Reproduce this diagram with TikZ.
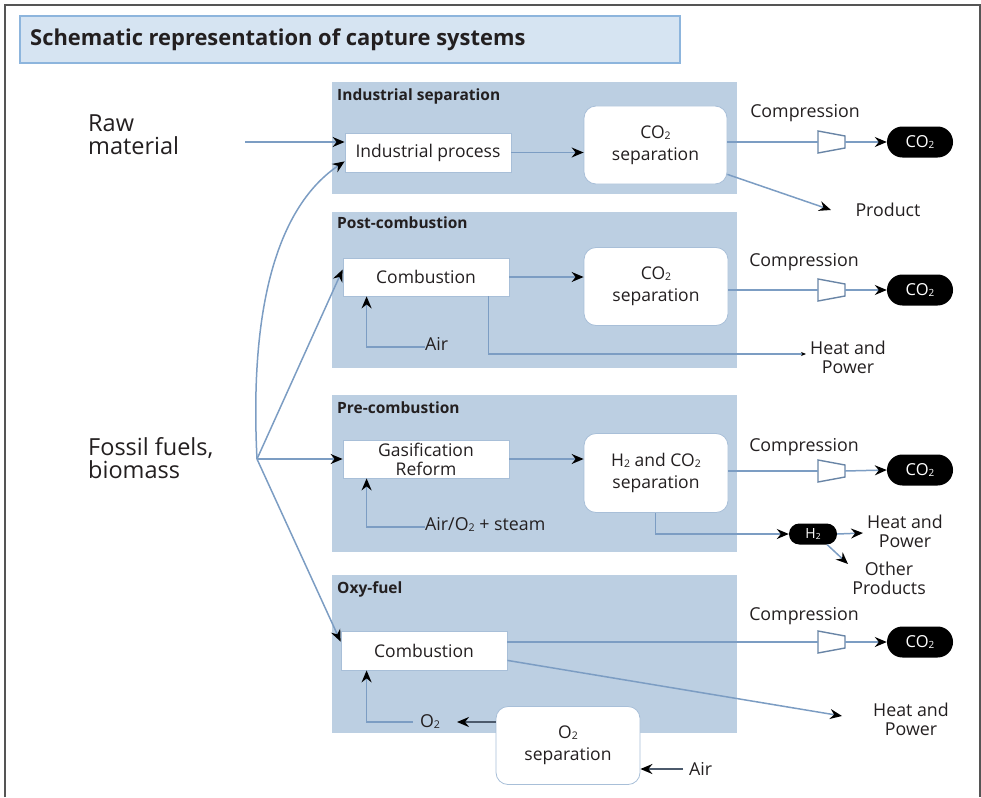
\documentclass[tikz,border=0pt]{standalone}
\usepackage{fontspec}
\setmainfont{Open Sans}
\usetikzlibrary{arrows.meta,calc}
\definecolor{panel}{HTML}{BCCFE2}
\definecolor{lnc}{HTML}{7C9DC3}
\definecolor{titlefill}{HTML}{D6E4F2}
\definecolor{titleedge}{HTML}{8DB5DD}
\definecolor{txt}{HTML}{231F20}
\definecolor{boxedge}{HTML}{A8BFD8}
\definecolor{framec}{HTML}{555555}
\definecolor{darkln}{HTML}{4C5A6C}
\newcommand{\sbt}{\raisebox{-0.1ex}{\scalebox{0.6}{2}}}
\tikzset{
  panelbox/.style={fill=panel, draw=none},
  paneltitle/.style={anchor=west, inner sep=0, text=txt, font=\bfseries\fontsize{15.5}{17}\selectfont},
  whitebox/.style={fill=white, draw=boxedge, line width=0.8, text=txt, align=center, inner sep=0,
    font=\fontsize{17.5}{19}\selectfont},
  roundbox/.style={whitebox, rounded corners=12, font=\fontsize{17.5}{22}\selectfont},
  pill/.style={fill=black, draw=none, rounded corners=15.4, text=white, inner sep=0,
    minimum width=66, minimum height=31, font=\fontsize{16.5}{18}\selectfont},
  label/.style={text=txt, inner sep=0, align=center, font=\fontsize{17.8}{19}\selectfont},
  biglabel/.style={text=txt, inner sep=0, align=left, anchor=west, font=\fontsize{23.5}{23}\selectfont},
  conn/.style={draw=lnc, line width=1.5},
  arr/.style={conn, -{Stealth[length=12pt, width=10pt, inset=4pt, color=black]}},
  smallarr/.style={conn, -{Stealth[length=5pt, width=4pt, inset=1.5pt, color=black]}},
  darr/.style={draw=darkln, line width=2.2, -{Stealth[length=12pt, width=10pt, inset=4pt, color=black]}},
  comp/.style={draw=lnc!85!black, line width=1.4, fill=white},
}
\begin{document}
\begin{tikzpicture}[x=1pt,y=-1pt]
\useasboundingbox (0,0) rectangle (981,797);
% outer frame
\draw[framec, line width=1.8] (5,797) -- (5,5) -- (980,5) -- (980,797);
% title
\draw[fill=titlefill, draw=titleedge, line width=2.5] (20,16) rectangle (680,63);
\node[anchor=west, inner sep=0, text=txt, font=\bfseries\fontsize{21.9}{24}\selectfont] (title) at (30,40)
  {Schematic representation of capture systems};
% panels
\fill[panelbox] (332,82) rectangle (737,194);
\fill[panelbox] (332,212) rectangle (737,368);
\fill[panelbox] (332,395) rectangle (737,552);
\fill[panelbox] (332,575) rectangle (737,733);
\node[paneltitle] (t1) at (337,96) {Industrial separation};
\node[paneltitle] (t2) at (337,223) {Post-combustion};
\node[paneltitle] (t3) at (337,408) {Pre-combustion};
\node[paneltitle] (t4) at (337,589) {Oxy-fuel};
% left labels
\node[biglabel] (raw) at (88,135) {Raw\\material};
\node[biglabel] (fossil) at (88,458) {Fossil fuels,\\biomass};
\coordinate (rawstart) at (245,142);
\coordinate (hub) at (257,459);
% boxes
\node[whitebox, minimum width=166, minimum height=39] (ip) at (428,152.5) {Industrial process};
\node[roundbox, minimum width=143, minimum height=78] (cs1) at (655.5,145) {CO\sbt\\separation};
\node[whitebox, minimum width=166, minimum height=38] (comb1) at (426,277) {Combustion};
\node[roundbox, minimum width=144, minimum height=78] (cs2) at (656,286.5) {CO\sbt\\separation};
\node[whitebox, minimum width=166, minimum height=38] (gas) at (426,459) {Gasification\\Reform};
\node[roundbox, minimum width=144, minimum height=79] (cs3) at (656,473) {H\sbt{} and CO\sbt\\separation};
\node[whitebox, minimum width=166, minimum height=39] (comb2) at (424,650.5) {Combustion};
\node[roundbox, minimum width=144, minimum height=78] (o2s) at (568,745.5) {O\sbt\\separation};
% pills
\node[pill] (p1) at (920,142) {CO\sbt};
\node[pill] (p2) at (920,290) {CO\sbt};
\node[pill] (p3) at (920,470) {CO\sbt};
\node[pill] (p4) at (920,642) {CO\sbt};
\node[pill, minimum width=48, minimum height=21, rounded corners=10.4, font=\fontsize{14}{15}\selectfont] (h2) at (813,534) {H\sbt};
% labels
\node[label] (c1) at (805,113) {Compression};
\node[label] (c2) at (804,262) {Compression};
\node[label] (c3) at (804,447) {Compression};
\node[label] (c4) at (804,616) {Compression};
\node[label] (prod) at (888,210) {Product};
\node[label] (hp1) at (848,357.5) {Heat and\\Power};
\node[label] (hp2) at (905,531) {Heat and\\Power};
\node[label] (op) at (889,578.5) {Other\\Products};
\node[label] (hp3) at (911,719) {Heat and\\Power};
\node[label, anchor=west] (air1) at (425,344) {Air};
\node[label, anchor=west] (air2) at (425,524) {Air/O\sbt{} + steam};
\node[label] (o2lab) at (430,722) {O\sbt};
\node[label, anchor=west] (airo) at (689,769) {Air};
% compressors
\foreach \i/\y in {1/142, 2/290, 3/471, 4/642} {
  \draw[comp] (818,\y-11) -- (845,\y-6) -- (845,\y+6) -- (818,\y+11) -- cycle;
  \coordinate (k\i in) at (818,\y);
  \coordinate (k\i out) at (845,\y);
}
% free ends
\coordinate (prodtip) at (831,210);
\coordinate (hp1tip) at (806,354);
\coordinate (hp2tip) at (863,533);
\coordinate (optip) at (848,564);
\coordinate (hp3tip) at (842,716);
\coordinate (o2tip) at (457,722);
% industrial separation
\draw[arr] (rawstart) -- (ip.west |- rawstart);
\draw[arr] (hub) .. controls (249,300) and (280,205) .. ([yshift=11pt]ip.south west);
\draw[arr] (ip.east) -- (cs1.west |- ip.east);
\draw[conn] (cs1.east |- k1in) -- (k1in);
\draw[arr] (k1out) -- (p1.west);
\draw[arr] ([yshift=10pt]cs1.south east) -- (prodtip);
% post-combustion
\draw[arr] (hub) -- ([yshift=-12pt]comb1.north west);
\draw[arr] (comb1.east) -- (cs2.west |- comb1.east);
\draw[arr] ([yshift=-3pt]air1.west) -| ([xshift=24pt]comb1.south west);
\draw[smallarr] ([xshift=-21pt]comb1.south east) |- (hp1tip);
\draw[conn] (cs2.east |- k2in) -- (k2in);
\draw[arr] (k2out) -- (p2.west);
% pre-combustion
\draw[arr] (hub) -- (gas.west);
\draw[arr] (gas.east) -- (cs3.west |- gas.east);
\draw[arr] ([yshift=-3pt]air2.west) -| ([xshift=24pt]gas.south west);
\draw[conn] (cs3.east |- k3in) -- (k3in);
\draw[arr] (k3out) -- (p3.west);
\draw[arr] ([xshift=-73pt]cs3.south east) |- (h2.west);
\draw[arr] (h2.east) -- (hp2tip);
\draw[arr] ([xshift=-10pt]h2.south east) -- (optip);
% oxy-fuel
\draw[arr] (hub) -- ([yshift=-11pt]comb2.north west);
\draw[conn] (comb2.east |- k4in) -- (k4in);
\draw[arr] (k4out) -- (p4.west);
\draw[arr] ([yshift=10pt]comb2.south east) -- (hp3tip);
\draw[darr] (o2s.west |- o2tip) -- (o2tip);
\draw[arr] ([xshift=-7pt]o2lab.west) -| ([xshift=26pt]comb2.south west);
\draw[darr] ([xshift=-6pt]airo.west) -- (o2s.east |- airo.west);
\end{tikzpicture}
\end{document}
